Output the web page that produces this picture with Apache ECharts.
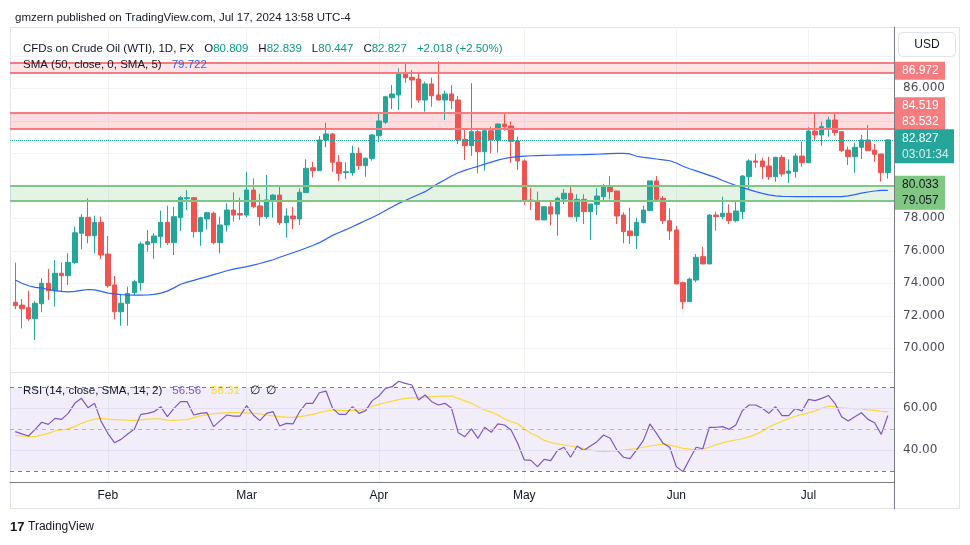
<!doctype html>
<html lang="en">
<head>
<meta charset="utf-8">
<title>CFDs on Crude Oil (WTI), 1D</title>
<style>
html, body { margin: 0; padding: 0; background: #fff; }
#chart { width: 970px; height: 545px; }
</style>
</head>
<body>
<div id="chart"></div>
<script src="https://cdn.jsdelivr.net/npm/echarts@6/dist/echarts.min.js"></script>
<script>
// daily bars, mid Jan -> Jul 17 2024 (index 0..132)
const open = [
  72.83, 72.66, 72.50, 71.82, 72.74, 74.00, 73.54, 74.62, 74.47, 75.27,
  77.08, 78.06, 76.93, 77.75, 75.80, 73.90, 72.25, 72.77, 73.42, 74.04,
  76.40, 76.50, 76.87, 77.75, 76.50, 78.04, 79.21, 79.27, 77.18, 77.96,
  78.31, 76.50, 77.59, 78.51, 78.29, 78.20, 79.74, 78.76, 78.10, 79.08,
  79.43, 77.73, 78.14, 77.96, 79.58, 81.11, 80.93, 82.82, 83.19, 81.45,
  80.81, 80.81, 82.00, 81.24, 81.69, 83.08, 83.91, 85.42, 85.59, 86.88,
  86.68, 86.57, 85.28, 86.27, 85.59, 85.28, 85.65, 85.28, 82.86, 82.47,
  83.33, 82.10, 83.39, 82.82, 83.80, 83.68, 82.76, 81.53, 79.12, 79.06,
  77.90, 78.71, 78.26, 79.19, 79.54, 78.10, 79.17, 78.41, 78.86, 79.33,
  79.99, 79.68, 78.20, 77.22, 76.93, 77.73, 78.47, 80.30, 79.23, 77.85,
  77.28, 74.04, 72.87, 74.20, 75.64, 75.19, 78.20, 78.10, 78.31, 77.85,
  78.41, 80.56, 81.53, 81.53, 81.22, 80.56, 81.75, 80.77, 80.87, 81.83,
  81.42, 83.37, 83.13, 83.60, 84.05, 83.33, 82.20, 81.79, 82.37, 82.82,
  82.20, 81.96, 80.809
];
const high = [
  75.27, 73.03, 73.54, 72.89, 74.31, 74.88, 75.43, 75.29, 75.85, 77.48,
  78.26, 79.23, 78.16, 78.10, 76.91, 74.45, 73.28, 73.79, 74.20, 76.56,
  77.28, 77.08, 78.47, 78.78, 78.71, 79.37, 79.74, 79.30, 78.10, 78.41,
  78.41, 78.10, 78.92, 79.60, 79.27, 80.87, 80.46, 79.50, 80.66, 79.48,
  79.99, 78.62, 78.71, 79.85, 81.63, 81.48, 83.07, 83.88, 83.25, 81.90,
  81.45, 82.47, 82.37, 81.73, 83.19, 84.50, 85.54, 86.20, 87.23, 87.60,
  87.13, 86.98, 86.41, 86.65, 87.68, 85.85, 86.20, 85.52, 83.50, 86.31,
  83.43, 83.43, 83.64, 83.85, 84.50, 83.95, 83.02, 81.63, 79.88, 79.64,
  78.71, 79.12, 79.33, 79.80, 79.99, 79.48, 79.48, 78.88, 79.85, 80.11,
  80.60, 79.68, 78.37, 78.65, 78.04, 78.78, 80.30, 80.60, 79.37, 78.62,
  77.53, 74.10, 74.34, 75.80, 76.25, 78.25, 78.41, 79.33, 78.86, 79.12,
  80.66, 81.63, 81.96, 81.73, 81.79, 81.79, 81.90, 81.63, 82.00, 82.71,
  83.60, 84.46, 83.95, 84.25, 84.52, 83.33, 82.41, 82.65, 83.13, 83.74,
  82.57, 81.96, 82.839
];
const low = [
  72.40, 71.23, 71.70, 70.51, 72.22, 72.97, 72.56, 73.45, 73.90, 75.17,
  76.09, 76.46, 75.85, 75.50, 73.73, 71.78, 71.39, 71.39, 73.28, 73.54,
  75.95, 75.50, 76.19, 76.36, 75.74, 77.22, 78.51, 76.81, 76.31, 77.32,
  76.40, 75.85, 77.18, 77.79, 77.90, 78.06, 78.62, 77.55, 77.96, 78.04,
  77.59, 76.81, 77.34, 77.59, 79.58, 80.52, 80.93, 82.37, 80.87, 80.31,
  80.42, 80.62, 80.97, 80.56, 81.55, 82.68, 83.80, 84.73, 84.66, 86.34,
  84.77, 85.12, 84.56, 84.87, 85.28, 84.05, 84.73, 82.57, 81.59, 81.85,
  80.77, 80.93, 82.00, 82.04, 83.39, 81.41, 80.97, 78.82, 78.51, 77.90,
  77.90, 77.55, 76.93, 78.88, 78.10, 77.79, 77.65, 76.66, 78.20, 79.02,
  79.17, 77.65, 76.46, 76.42, 76.11, 77.69, 78.47, 79.02, 77.65, 76.66,
  73.96, 72.42, 72.87, 74.06, 75.19, 75.19, 77.24, 77.94, 77.65, 77.75,
  77.96, 79.78, 81.11, 80.42, 80.36, 80.25, 80.56, 80.19, 80.50, 81.18,
  81.42, 82.82, 82.47, 83.02, 83.08, 82.10, 81.28, 80.81, 81.65, 82.16,
  81.48, 80.25, 80.447
];
const close = [
  72.62, 72.44, 71.82, 72.77, 74.00, 73.54, 74.62, 74.47, 75.29, 77.11,
  78.06, 76.93, 77.75, 75.74, 73.85, 72.25, 72.77, 73.38, 74.10, 76.42,
  76.56, 76.91, 77.75, 76.50, 78.10, 79.27, 79.27, 77.18, 78.04, 78.34,
  76.50, 77.59, 78.51, 78.20, 78.20, 79.74, 78.71, 78.10, 79.13, 79.43,
  77.73, 78.14, 77.96, 79.60, 81.08, 80.93, 82.82, 83.19, 81.45, 80.77,
  80.87, 82.00, 81.24, 81.69, 83.13, 83.99, 85.48, 85.65, 86.88, 86.65,
  86.51, 85.28, 86.27, 85.54, 85.28, 85.65, 85.24, 82.82, 82.47, 83.33,
  82.10, 83.39, 82.82, 83.80, 83.64, 82.72, 81.53, 79.06, 79.06, 77.90,
  78.71, 78.26, 79.23, 79.54, 78.10, 79.17, 78.41, 78.88, 79.37, 79.99,
  79.64, 78.14, 77.18, 76.93, 77.75, 78.51, 80.30, 79.17, 77.85, 77.22,
  73.96, 72.87, 74.26, 75.60, 75.19, 78.20, 78.10, 78.31, 77.85, 78.45,
  80.60, 81.53, 81.45, 81.18, 80.56, 81.75, 80.73, 80.91, 81.83, 81.42,
  83.37, 83.13, 83.64, 84.05, 83.27, 82.16, 81.79, 82.37, 82.82, 82.16,
  81.94, 80.809, 82.827
];
const sma50 = [
  74.20, 74.00, 73.85, 73.75, 73.70, 73.62, 73.55, 73.50, 73.47, 73.50,
  73.56, 73.62, 73.60, 73.50, 73.40, 73.35, 73.30, 73.28, 73.27, 73.27,
  73.28, 73.32, 73.40, 73.52, 73.72, 73.94, 74.07, 74.18, 74.30, 74.41,
  74.53, 74.65, 74.77, 74.87, 74.95, 75.03, 75.12, 75.22, 75.33, 75.45,
  75.60, 75.74, 75.88, 76.02, 76.17, 76.33, 76.50, 76.72, 76.95, 77.13,
  77.30, 77.48, 77.67, 77.86, 78.05, 78.25, 78.48, 78.70, 78.92, 79.10,
  79.28, 79.46, 79.64, 79.90, 80.15, 80.37, 80.60, 80.80, 80.95, 81.08,
  81.20, 81.33, 81.46, 81.58, 81.68, 81.75, 81.80, 81.83, 81.85, 81.86,
  81.87, 81.88, 81.89, 81.90, 81.90, 81.91, 81.92, 81.93, 81.94, 81.96,
  81.98, 82.00, 81.99, 81.96, 81.82, 81.75, 81.70, 81.65, 81.60, 81.54,
  81.40, 81.20, 81.05, 80.92, 80.78, 80.64, 80.50, 80.33, 80.17, 80.02,
  79.88, 79.76, 79.64, 79.53, 79.44, 79.38, 79.35, 79.34, 79.33, 79.33,
  79.33, 79.33, 79.33, 79.33, 79.33, 79.33, 79.38, 79.46, 79.55, 79.62,
  79.68, 79.72, 79.722
];
const rsi = [
  48.8, 47.7, 46.7, 49.9, 53.3, 52.3, 55.2, 54.7, 57.6, 62.4,
  64.8, 60.3, 62.4, 53.6, 48.0, 43.5, 45.1, 47.7, 49.9, 57.1,
  57.6, 58.4, 60.8, 56.0, 60.0, 63.2, 63.2, 56.8, 57.6, 57.9,
  51.2, 54.1, 56.8, 56.3, 56.3, 61.3, 56.8, 54.1, 57.6, 58.4,
  51.5, 52.8, 52.5, 58.4, 62.4, 62.4, 67.5, 68.3, 60.0, 57.1,
  57.1, 60.8, 57.6, 58.9, 63.7, 65.9, 69.6, 70.4, 73.0, 72.0,
  71.2, 64.0, 66.4, 63.2, 61.6, 62.4, 60.0, 48.3, 46.4, 50.1,
  45.6, 50.9, 48.5, 52.5, 52.0, 49.6, 43.2, 35.2, 35.0, 32.0,
  35.5, 34.9, 39.7, 41.3, 36.5, 41.9, 39.7, 41.9, 44.0, 47.2,
  45.6, 40.0, 36.5, 35.8, 40.0, 44.5, 52.5, 48.0, 43.2, 41.3,
  32.0, 29.6, 35.5, 41.3, 40.6, 50.9, 50.9, 51.2, 49.9, 52.0,
  58.9, 61.6, 61.6, 60.0, 57.6, 60.8, 56.5, 56.5, 60.0, 58.7,
  64.3, 63.7, 64.8, 66.2, 62.4, 56.0, 53.9, 56.0, 57.9, 54.7,
  53.1, 47.5, 56.56
];
const rsiMa = [
  47.0, 46.7, 46.4, 46.4, 47.2, 48.0, 49.1, 49.6, 50.1, 51.2,
  52.8, 53.9, 54.8, 55.2, 54.8, 54.6, 54.5, 54.3, 54.2, 54.5,
  54.8, 55.0, 54.8, 54.3, 54.2, 54.4, 54.6, 55.5, 56.4, 57.0,
  57.4, 57.7, 57.9, 57.9, 57.9, 57.8, 57.6, 57.3, 56.8, 56.4,
  56.0, 55.8, 55.7, 56.0, 56.5, 57.1, 57.9, 58.7, 59.2, 59.0,
  58.9, 58.9, 58.9, 60.0, 61.0, 61.9, 62.7, 63.5, 64.2, 64.8,
  65.0, 65.1, 65.4, 65.6, 65.8, 65.9, 65.9, 64.8, 63.6, 62.4,
  60.8, 59.2, 58.2, 56.8, 55.0, 53.6, 52.6, 50.2, 48.0, 46.6,
  44.6, 43.6, 42.9, 42.4, 41.9, 41.3, 40.8, 40.1, 39.4, 39.2,
  39.4, 39.6, 39.9, 40.3, 40.7, 41.3, 41.9, 42.4, 42.9, 42.3,
  41.6, 40.8, 40.4, 40.0, 40.5, 41.3, 42.5, 43.4, 44.2, 44.8,
  45.4, 46.3, 47.5, 49.0, 51.0, 52.5, 53.8, 55.0, 56.2, 57.0,
  57.8, 58.8, 60.0, 61.0, 60.8, 60.2, 60.0, 59.8, 59.7, 59.3,
  59.0, 58.5, 58.31
];
const monthTicks = [14, 35, 55, 77, 100, 120];
const monthNames = ['Feb', 'Mar', 'Apr', 'May', 'Jun', 'Jul'];
const priceLabels = [70, 72, 74, 76, 78, 86];
const rsiLabels = [40, 60];
const zoneTop = [86.972, 87.58];
const zoneMid = [83.532, 84.519];
const zoneLow = [79.057, 80.033];
const countdown = '03:01:34';

const UP = '#26a69a', DOWN = '#ef5350';
const RED_LINE = '#f77c80', GREEN_LINE = '#81c784';
const SANS = 'Liberation Sans', AXIS_FONT = 'DejaVu Sans';
const X_MIN = -0.8, X_MAX = 132.93;

const n = close.length;
const last = n - 1;
const candles = open.map((o, i) => [i, o, close[i], low[i], high[i]]);
const asXY = arr => arr.map((v, i) => [i, v]);
const chg = close[last] - close[last - 1];
const chgPct = chg / close[last - 1] * 100;

const txt = color => ({ fontSize: 11.5, color: color, fontFamily: SANS, fontWeight: 'normal' });
const boxStyle = (bg, fg, w) => ({
  color: fg, backgroundColor: bg, fontSize: 12, fontFamily: SANS,
  lineHeight: 16, padding: [3, 6, 3, 7], width: w, align: 'left'
});
const spacer = h => ({ lineHeight: h, fontSize: 1 });

const hLine = (y, color, extra) => Object.assign({
  yAxis: y, lineStyle: { color: color, width: 2, type: 'solid' }, label: { show: false }
}, extra || {});

const chart = echarts.init(document.getElementById('chart'), null, { renderer: 'canvas' });

chart.setOption({
  animation: false,
  backgroundColor: '#ffffff',
  textStyle: { fontFamily: SANS },
  title: [
    {
      left: 10, top: 7,
      text: 'gmzern published on TradingView.com, Jul 17, 2024 13:58 UTC-4',
      textStyle: txt('#131722')
    },
    {
      left: 18, top: 35,
      text: '{n|CFDs on Crude Oil (WTI), 1D, FX}  {k|O}{v|' + open[last].toFixed(3) + '}  {k|H}{v|' + high[last].toFixed(3) +
        '}  {k|L}{v|' + low[last].toFixed(3) + '}  {k|C}{v|' + close[last].toFixed(3) + '}  {v|+' + chg.toFixed(3) +
        ' (+' + chgPct.toFixed(2) + '%)}',
      textStyle: {
        fontWeight: 'normal',
        rich: { n: txt('#131722'), k: txt('#131722'), v: txt('#089981') }
      }
    },
    {
      left: 18, top: 51,
      text: '{n|SMA (50, close, 0, SMA, 5)}  {b|' + sma50[last].toFixed(3) + '}',
      textStyle: {
        fontWeight: 'normal',
        rich: { n: txt('#131722'), b: txt('#2962ff') }
      }
    },
    {
      left: 18, top: 377,
      text: '{n|RSI (14, close, SMA, 14, 2)}  {p|' + rsi[last].toFixed(2) + '}  {y|' + rsiMa[last].toFixed(2) + '}  {g|\u2205  \u2205}',
      textStyle: {
        fontWeight: 'normal',
        rich: { n: txt('#131722'), p: txt('#7e57c2'), y: txt('#fdd835'), g: txt('#131722') }
      }
    }
  ],
  grid: [
    { left: 10, right: 76, top: 23.3, height: 357.5 },
    { left: 10, right: 76, top: 366.7, height: 124.9 },
    { left: 10, right: 76, top: 27, height: 455 }
  ],
  xAxis: [
    { type: 'value', gridIndex: 0, min: X_MIN, max: X_MAX, show: false },
    { type: 'value', gridIndex: 1, min: X_MIN, max: X_MAX, show: false },
    {
      type: 'value', gridIndex: 2, min: X_MIN, max: X_MAX,
      axisLine: { show: true, lineStyle: { color: '#787b86', width: 1 } },
      axisTick: { show: false, customValues: monthTicks },
      axisLabel: {
        customValues: monthTicks,
        formatter: v => monthNames[monthTicks.indexOf(v)] || '',
        color: '#131722', fontSize: 12, fontFamily: SANS, margin: 8
      },
      splitLine: { show: true, customValues: monthTicks, lineStyle: { color: '#f0f3fa', width: 1 } }
    }
  ],
  yAxis: [
    {
      type: 'value', gridIndex: 0, position: 'right', min: 68, max: 90, interval: 2,
      axisLine: { show: false }, axisTick: { show: false },
      axisLabel: {
        formatter: v => priceLabels.indexOf(v) >= 0 ? v.toFixed(3) : '',
        color: '#4a4d57', fontSize: 12, fontFamily: AXIS_FONT, margin: 9,
        showMinLabel: false, showMaxLabel: false
      },
      splitLine: { show: true, showMinLine: false, showMaxLine: false, lineStyle: { color: '#f0f3fa' } }
    },
    {
      type: 'value', gridIndex: 1, position: 'right', min: 20, max: 80, interval: 10,
      axisLine: { show: false }, axisTick: { show: false },
      axisLabel: {
        formatter: v => rsiLabels.indexOf(v) >= 0 ? v.toFixed(2) : '',
        color: '#4a4d57', fontSize: 12, fontFamily: AXIS_FONT, margin: 9
      },
      splitLine: { show: false }
    },
    { type: 'value', gridIndex: 2, min: 0, max: 1, show: false }
  ],
  series: [
    {
      name: 'WTI', type: 'candlestick', xAxisIndex: 0, yAxisIndex: 0,
      data: candles, encode: { x: 0, y: [1, 2, 3, 4] },
      barWidth: 5, clip: true,
      itemStyle: { color: UP, color0: DOWN, borderColor: UP, borderColor0: DOWN, borderWidth: 1 },
      markArea: {
        silent: true,
        data: [
          [{ yAxis: zoneTop[0], itemStyle: { color: 'rgba(242,54,69,0.13)' } }, { yAxis: zoneTop[1] }],
          [{ yAxis: zoneMid[0], itemStyle: { color: 'rgba(242,54,69,0.17)' } }, { yAxis: zoneMid[1] }],
          [{ yAxis: zoneLow[0], itemStyle: { color: 'rgba(76,175,80,0.15)' } }, { yAxis: zoneLow[1] }]
        ]
      },
      markLine: {
        silent: true, symbol: ['none', 'none'],
        label: { show: true, position: 'end', distance: 1 },
        data: [
          hLine(zoneTop[1], RED_LINE),
          hLine(zoneTop[0], RED_LINE, {
            label: {
              show: true, position: 'end', distance: 1,
              formatter: '{a|' + zoneTop[0].toFixed(3) + '}\n{s| }',
              rich: { a: boxStyle(RED_LINE, '#ffffff', 37), s: spacer(3.4) }
            }
          }),
          hLine(zoneMid[1], RED_LINE, {
            label: {
              show: true, position: 'end', distance: 1,
              formatter: '{s| }\n{a|' + zoneMid[1].toFixed(3) + '}\n{a|' + zoneMid[0].toFixed(3) + '}',
              rich: { a: boxStyle(RED_LINE, '#ffffff', 37), s: spacer(3.6) }
            }
          }),
          hLine(zoneMid[0], RED_LINE),
          hLine(close[last], UP, {
            lineStyle: { color: UP, width: 1, type: 'dotted' },
            label: {
              show: true, position: 'end', distance: 1,
              formatter: '{s| }\n{p|' + close[last].toFixed(3) + '}\n{t|' + countdown + '}',
              rich: { p: boxStyle(UP, '#ffffff', 46), t: boxStyle(UP, '#d6f0ed', 46), s: spacer(13) }
            }
          }),
          hLine(zoneLow[1], GREEN_LINE, {
            label: {
              show: true, position: 'end', distance: 1,
              formatter: '{s| }\n{g|' + zoneLow[1].toFixed(3) + '}\n{g|' + zoneLow[0].toFixed(3) + '}',
              rich: { g: boxStyle(GREEN_LINE, '#131722', 37), s: spacer(15) }
            }
          }),
          hLine(zoneLow[0], GREEN_LINE)
        ]
      },
      z: 3
    },
    {
      name: 'SMA 50', type: 'line', xAxisIndex: 0, yAxisIndex: 0,
      data: asXY(sma50), showSymbol: false, smooth: false,
      lineStyle: { color: '#2962ff', width: 1.2 }, z: 4
    },
    {
      name: 'RSI', type: 'line', xAxisIndex: 1, yAxisIndex: 1,
      data: asXY(rsi), showSymbol: false,
      lineStyle: { color: '#7e57c2', width: 1.2 }, z: 4,
      markArea: {
        silent: true,
        data: [[{ yAxis: 30, itemStyle: { color: 'rgba(126,87,194,0.1)' } }, { yAxis: 70 }]]
      },
      markLine: {
        silent: true, symbol: ['none', 'none'], label: { show: false },
        data: [
          { yAxis: 60, lineStyle: { color: '#e3def1', width: 1, type: 'solid' } },
          { yAxis: 40, lineStyle: { color: '#e3def1', width: 1, type: 'solid' } },
          { yAxis: 70, lineStyle: { color: '#787b86', width: 1, type: [4, 4] } },
          { yAxis: 50, lineStyle: { color: '#b2b5be', width: 1, type: [4, 4] } },
          { yAxis: 30, lineStyle: { color: '#787b86', width: 1, type: [4, 4] } }
        ]
      }
    },
    {
      name: 'RSI MA', type: 'line', xAxisIndex: 1, yAxisIndex: 1,
      data: asXY(rsiMa), showSymbol: false,
      lineStyle: { color: '#fdd835', width: 1.2 }, z: 3
    }
  ],
  graphic: [
    { type: 'rect', shape: { x: 10.5, y: 27.5, width: 949, height: 481 }, style: { fill: 'none', stroke: '#e0e3eb', lineWidth: 1 }, silent: true },
    { type: 'line', shape: { x1: 10, y1: 372.5, x2: 894, y2: 372.5 }, style: { stroke: '#e0e3eb', lineWidth: 1 }, silent: true },
    { type: 'line', shape: { x1: 894.5, y1: 27, x2: 894.5, y2: 509 }, style: { stroke: '#787b86', lineWidth: 1 }, silent: true },
    { type: 'rect', shape: { x: 898.5, y: 32.5, width: 57, height: 24, r: 4 }, style: { fill: '#fff', stroke: '#e0e3eb', lineWidth: 1 }, silent: true },
    { type: 'text', x: 927, y: 44.5, style: { text: 'USD', fill: '#131722', font: '12px "Liberation Sans"', align: 'center', verticalAlign: 'middle' }, silent: true },
    { type: 'text', x: 10, y: 527, style: { text: '17', fill: '#131722', font: 'bold 13px "Liberation Sans"', verticalAlign: 'middle' }, silent: true },
    { type: 'text', x: 28, y: 527, style: { text: 'TradingView', fill: '#131722', font: '12px "Liberation Sans"', verticalAlign: 'middle' }, silent: true }
  ]
});
</script>
</body>
</html>
